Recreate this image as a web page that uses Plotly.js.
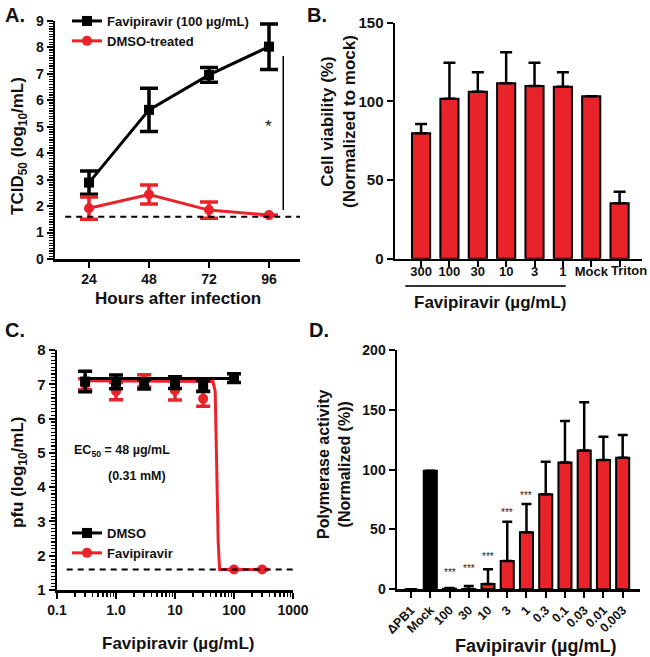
<!DOCTYPE html>
<html>
<head>
<meta charset="utf-8">
<script src="https://cdn.plot.ly/plotly-3.0.1.min.js"></script>
<style>html,body{margin:0;padding:0;background:#fff;}#chart{width:650px;height:657px;}</style>
</head>
<body>
<div id="chart"></div>
<script>
// ---------- Panel A data ----------
const hoursA = [24, 48, 72, 96];
const favA = [2.89, 5.64, 6.96, 8.03];
const favAerr = [0.44, 0.82, 0.28, 0.86];
const dmsoA = [1.92, 2.44, 1.85, 1.66];
const dmsoAerr = [0.42, 0.36, 0.31, 0];
const limitA = 1.6;

// ---------- Panel B data ----------
const catsB = ["300", "100", "30", "10", "3", "1", "Mock", "Triton"];
const viabB = [79.7, 101.7, 106.1, 111.5, 109.8, 109.3, 103.2, 35.2];
const viabBerr = [5.9, 22.9, 12.4, 19.7, 14.8, 9.2, 0, 7.4];

// ---------- Panel C data ----------
const concC = [0.3, 1, 3, 10, 30, 100];
const dmsoC = [7.08, 7.07, 7.0, 7.05, 6.95, 7.18];
const dmsoCerr = [0.3, 0.2, 0.14, 0.17, 0.16, 0.13];
const concFavC = [0.3, 1, 3, 10, 30, 100, 300];
const favC = [7.0, 6.8, 7.1, 6.82, 6.58, 1.6, 1.6];
const favCerr = [0.16, 0.25, 0.18, 0.28, 0.22, 0, 0];
const fitDmsoX = [0.25, 110];
const fitDmsoY = [7.17, 7.17];
const fitFavX = [0.25, 44, 48, 51, 54, 57, 300];
const fitFavY = [7.1, 7.08, 6.8, 4.8, 2.4, 1.6, 1.6];
const limitC = 1.6;

// ---------- Panel D data ----------
const catsD = ["\u0394PB1", "Mock", "100", "30", "10", "3", "1", "0.3", "0.1", "0.03", "0.01", "0.003"];
const polD = [0, 99, 0.5, 0.3, 4.5, 23.7, 47.6, 79.4, 106, 116, 108, 110];
const polDerr = [0, 0, 0.5, 2.5, 12.2, 32.8, 23.7, 27.3, 34.7, 40.3, 19.6, 19];
const starCats = ["100", "30", "10", "3", "1"];
const starY = [14, 17, 27, 64, 78];

const RED = '#E8232A';
const BLACK = '#000000';
const FONT = 'Liberation Sans, Arial, Helvetica, sans-serif';

function px(x) { return x / 650; }
function py(y) { return 1 - y / 657; }

const traces = [];
// Panel A
traces.push({
  x: hoursA, y: favA, type: 'scatter', mode: 'lines+markers', name: 'Favipiravir (100 \u00b5g/mL)',
  xaxis: 'x', yaxis: 'y', legend: 'legend',
  line: {color: BLACK, width: 3}, marker: {symbol: 'square', size: 10, color: BLACK},
  error_y: {type: 'data', array: favAerr, color: BLACK, thickness: 3.5, width: 9}
});
traces.push({
  x: hoursA, y: dmsoA, type: 'scatter', mode: 'lines+markers', name: 'DMSO-treated',
  xaxis: 'x', yaxis: 'y', legend: 'legend',
  line: {color: RED, width: 3}, marker: {symbol: 'circle', size: 10, color: RED},
  error_y: {type: 'data', array: dmsoAerr, color: RED, thickness: 3.5, width: 9}
});
// Panel B
traces.push({
  x: catsB, y: viabB, type: 'bar', xaxis: 'x2', yaxis: 'y2', showlegend: false, width: 0.64,
  marker: {color: RED, line: {color: BLACK, width: 2}},
  error_y: {type: 'data', array: viabBerr, arrayminus: viabB.map(() => 0), symmetric: false, color: BLACK, thickness: 2.5, width: 6}
});
// Panel C
traces.push({
  x: fitFavX, y: fitFavY, type: 'scatter', mode: 'lines', xaxis: 'x3', yaxis: 'y3', showlegend: false,
  line: {color: RED, width: 3}
});
traces.push({
  x: concFavC, y: favC, type: 'scatter', mode: 'markers', xaxis: 'x3', yaxis: 'y3', showlegend: false,
  marker: {symbol: 'circle', size: 10, color: RED},
  error_y: {type: 'data', array: favCerr, color: RED, thickness: 3.5, width: 7}
});
traces.push({
  x: fitDmsoX, y: fitDmsoY, type: 'scatter', mode: 'lines', xaxis: 'x3', yaxis: 'y3', showlegend: false,
  line: {color: BLACK, width: 3}
});
traces.push({
  x: concC, y: dmsoC, type: 'scatter', mode: 'markers', xaxis: 'x3', yaxis: 'y3', showlegend: false,
  marker: {symbol: 'square', size: 10, color: BLACK},
  error_y: {type: 'data', array: dmsoCerr, color: BLACK, thickness: 3.5, width: 7}
});
// legend-only entries for panel C
traces.push({
  x: [null], y: [null], type: 'scatter', mode: 'lines+markers', name: 'DMSO', xaxis: 'x3', yaxis: 'y3',
  legend: 'legend2', line: {color: BLACK, width: 3}, marker: {symbol: 'square', size: 10, color: BLACK}
});
traces.push({
  x: [null], y: [null], type: 'scatter', mode: 'lines+markers', name: 'Favipiravir', xaxis: 'x3', yaxis: 'y3',
  legend: 'legend2', line: {color: RED, width: 3}, marker: {symbol: 'circle', size: 10, color: RED}
});
// Panel D
traces.push({
  x: catsD, y: polD, type: 'bar', xaxis: 'x4', yaxis: 'y4', showlegend: false, width: 0.68,
  marker: {color: catsD.map(c => c === 'Mock' ? BLACK : RED), line: {color: BLACK, width: 2}},
  error_y: {type: 'data', array: polDerr, arrayminus: polD.map(() => 0), symmetric: false, color: BLACK, thickness: 2.5, width: 5}
});

const axBase = {
  showline: true, linecolor: BLACK, linewidth: 2.5, ticks: 'outside', ticklen: 6, tickwidth: 2,
  tickcolor: BLACK, showgrid: false, zeroline: false, fixedrange: true,
  tickfont: {family: FONT, size: 14, color: '#111', weight: 'bold'}
};
function ax(o) { return Object.assign({}, axBase, o); }

const minorLog = [];
for (let d = -1; d < 3; d++) for (let k = 2; k <= 9; k++) minorLog.push(k * Math.pow(10, d));

// B tick labels: last one drawn as a separate annotation (it sits right of its tick in the reference)
const labelsB = catsB.map(c => c === 'Triton' ? '' : c);

const layout = {
  width: 650, height: 657,
  margin: {l: 0, r: 0, t: 0, b: 0},
  paper_bgcolor: '#fff', plot_bgcolor: 'rgba(0,0,0,0)',
  font: {family: FONT, size: 14, color: '#111', weight: 'bold'},
  showlegend: true,
  xaxis: ax({domain: [px(55), px(300)], anchor: 'y', range: [10.4, 108.4], tickmode: 'array', tickvals: hoursA}),
  yaxis: ax({domain: [py(259), py(21)], anchor: 'x', range: [0, 9], dtick: 1,
    minor: {dtick: 0.1, ticks: 'outside', ticklen: 3.5, tickwidth: 1.2, tickcolor: BLACK}}),
  xaxis2: ax({domain: [px(395), px(642)], anchor: 'y2', type: 'category', range: [-0.92, 7.79],
    tickmode: 'array', tickvals: catsB, ticktext: labelsB, ticklabelstandoff: -7,
    tickangle: 0, tickfont: {family: FONT, size: 13, color: '#111', weight: 'bold'}}),
  yaxis2: ax({domain: [py(258.7), py(22.7)], anchor: 'x2', range: [0, 150], dtick: 50,
    tickfont: {family: FONT, size: 15, color: '#111', weight: 'bold'}}),
  xaxis3: ax({domain: [px(57), px(293)], anchor: 'y3', type: 'log', range: [-1, 3], tickmode: 'array',
    tickvals: [0.1, 1, 10, 100, 1000], ticktext: ['0.1', '1.0', '10', '100', '1000'],
    minor: {tickmode: 'array', tickvals: minorLog, ticks: 'outside', ticklen: 4, tickwidth: 1.5, tickcolor: BLACK}}),
  yaxis3: ax({domain: [py(590), py(350)], anchor: 'x3', range: [1, 8], dtick: 1,
    tickfont: {family: FONT, size: 15, color: '#111', weight: 'bold'},
    minor: {dtick: 0.1, ticks: 'outside', ticklen: 3.5, tickwidth: 1.2, tickcolor: BLACK}}),
  xaxis4: ax({domain: [px(397), px(640)], anchor: 'y4', type: 'category', range: [-0.73, 11.9],
    tickangle: -45, tickfont: {family: FONT, size: 12.5, color: '#111', weight: 'bold'}}),
  yaxis4: ax({domain: [py(589.3), py(350)], anchor: 'x4', range: [0, 200], dtick: 50}),
  legend: {x: px(67), xanchor: 'left', y: py(6), yanchor: 'top', bgcolor: 'rgba(0,0,0,0)',
    font: {family: FONT, size: 13, color: '#111', weight: 'bold'}, tracegroupgap: 0},
  legend2: {x: px(67), xanchor: 'left', y: py(518), yanchor: 'top', bgcolor: 'rgba(0,0,0,0)',
    font: {family: FONT, size: 13, color: '#111', weight: 'bold'}, tracegroupgap: 0},
  shapes: [
    {type: 'line', xref: 'x', yref: 'y', x0: 14.5, x1: 108.4, y0: limitA, y1: limitA,
      line: {color: BLACK, width: 2, dash: '6px,5px'}},
    {type: 'line', xref: 'x', yref: 'y', x0: 101.7, x1: 101.7, y0: 1.85, y1: 7.68,
      line: {color: BLACK, width: 1.5}},
    {type: 'line', xref: 'x2', yref: 'paper', x0: -0.56, x1: 5.1, y0: py(286), y1: py(286),
      line: {color: '#333', width: 2}},
    {type: 'line', xref: 'x3', yref: 'y3', x0: 0.146, x1: 1000, y0: limitC, y1: limitC,
      line: {color: BLACK, width: 2, dash: '6px,5px'}}
  ],
  annotations: []
};

const ann = layout.annotations;
function label(text, x, y, opts) {
  ann.push(Object.assign({text: text, xref: 'paper', yref: 'paper', x: px(x), y: py(y), showarrow: false,
    xanchor: 'center', yanchor: 'middle', font: {family: FONT, size: 17, color: '#111', weight: 'bold'}}, opts || {}));
}
// panel letters
label('A.', 3, 15, {xanchor: 'left', font: {family: FONT, size: 20, color: '#111', weight: 'bold'}});
label('B.', 305, 15, {xanchor: 'left', font: {family: FONT, size: 20, color: '#111', weight: 'bold'}});
label('C.', 3, 330, {xanchor: 'left', font: {family: FONT, size: 20, color: '#111', weight: 'bold'}});
label('D.', 307, 330, {xanchor: 'left', font: {family: FONT, size: 20, color: '#111', weight: 'bold'}});
// axis titles
label('TCID<sub>50</sub> (log<sub>10</sub>/mL)', 19, 146, {textangle: -90});
label('Hours after infection', 178, 299);
label('Cell viability (%)<br>(Normalized to mock)', 338, 122, {textangle: -90});
label('Favipiravir (\u00b5g/mL)', 490, 302);
label('pfu (log<sub>10</sub>/mL)', 19, 473, {textangle: -90});
label('Favipiravir (\u00b5g/mL)', 178, 643);
label('Polymerase activity<br>(Normalized (%))', 334, 464, {textangle: -90,
  font: {family: FONT, size: 16, color: '#111', weight: 'bold'}});
label('Favipiravir (\u00b5g/mL)', 535, 646, {font: {family: FONT, size: 18, color: '#111', weight: 'bold'}});
// Triton tick label of panel B
ann.push({text: 'Triton', xref: 'x2', yref: 'paper', x: catsB.indexOf('Triton'), y: py(270), xshift: 9,
  showarrow: false, xanchor: 'center', yanchor: 'middle',
  font: {family: FONT, size: 13, color: '#111', weight: 'bold'}});
// EC50 text
label('EC<sub>50</sub> = 48 \u00b5g/mL', 72, 451, {xanchor: 'left', font: {family: FONT, size: 12.5, color: '#111', weight: 'bold'}});
label('(0.31 mM)', 106, 476, {xanchor: 'left', font: {family: FONT, size: 12.5, color: '#111', weight: 'bold'}});
// significance asterisk panel A
ann.push({text: '*', xref: 'x', yref: 'y', x: 95.7, y: 5.0, showarrow: false,
  font: {family: FONT, size: 17, color: '#111', weight: 'normal'}});
// stars panel D (positioned by category index)
starCats.forEach((c, i) => {
  ann.push({text: '***', xref: 'x4', yref: 'y4', x: catsD.indexOf(c), y: starY[i], showarrow: false,
    font: {family: FONT, size: 10, color: '#222', weight: 'normal'}});
});

Plotly.newPlot('chart', traces, layout, {staticPlot: true, displayModeBar: false});
</script>
</body>
</html>
